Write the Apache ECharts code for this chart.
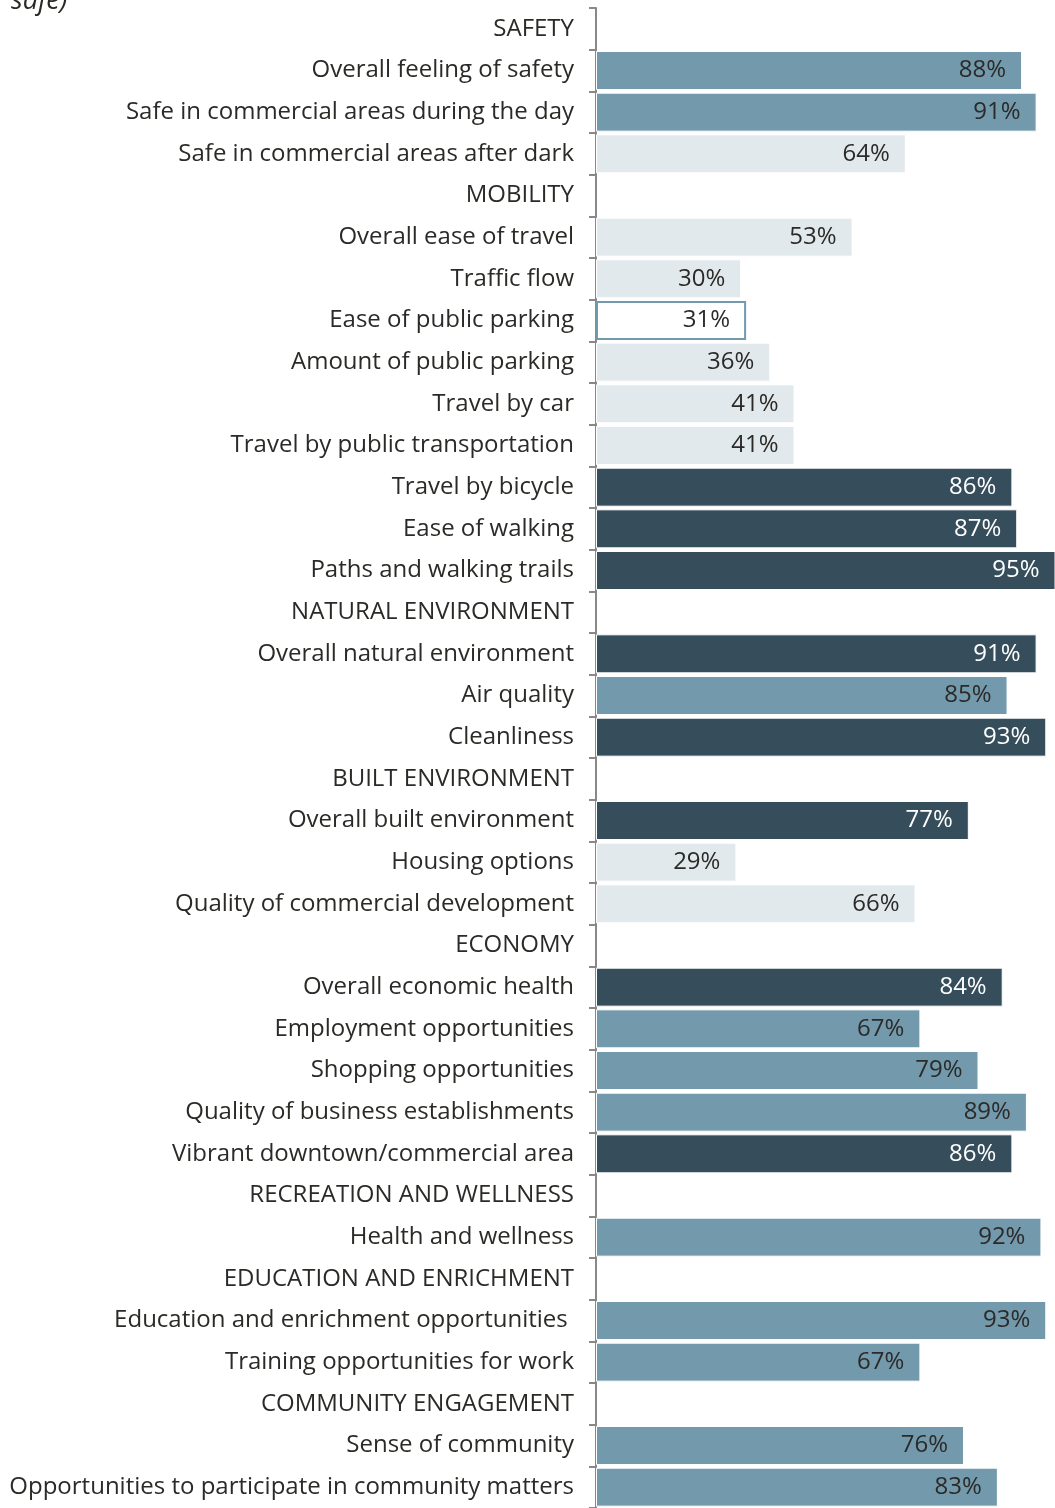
<!DOCTYPE html>
<html>
<head>
<meta charset="utf-8">
<script src="https://cdn.jsdelivr.net/npm/echarts@6/dist/echarts.min.js"></script>
<style>
html,body{margin:0;padding:0;background:#fff;}
#chart{width:1055px;height:1508px;}
</style>
</head>
<body>
<div id="chart"></div>
<script>
// ---- data ----
const titleText = 'safe)';
const categories = [
  'SAFETY',
  'Overall feeling of safety',
  'Safe in commercial areas during the day',
  'Safe in commercial areas after dark',
  'MOBILITY',
  'Overall ease of travel',
  'Traffic flow',
  'Ease of public parking',
  'Amount of public parking',
  'Travel by car',
  'Travel by public transportation',
  'Travel by bicycle',
  'Ease of walking',
  'Paths and walking trails',
  'NATURAL ENVIRONMENT',
  'Overall natural environment',
  'Air quality',
  'Cleanliness',
  'BUILT ENVIRONMENT',
  'Overall built environment',
  'Housing options',
  'Quality of commercial development',
  'ECONOMY',
  'Overall economic health',
  'Employment opportunities',
  'Shopping opportunities',
  'Quality of business establishments',
  'Vibrant downtown/commercial area',
  'RECREATION AND WELLNESS',
  'Health and wellness',
  'EDUCATION AND ENRICHMENT',
  'Education and enrichment opportunities ',
  'Training opportunities for work',
  'COMMUNITY ENGAGEMENT',
  'Sense of community',
  'Opportunities to participate in community matters'
];
const values = [
  null, 88, 91, 64,
  null, 53, 30, 31, 36, 41, 41, 86, 87, 95,
  null, 91, 85, 93,
  null, 77, 29, 66,
  null, 84, 67, 79, 89, 86,
  null, 92,
  null, 93, 67,
  null, 76, 83
];
// comparison rating for each row (header rows: none)
const ratings = [
  'none', 'similar', 'similar', 'lower',
  'none', 'lower', 'lower', 'muchLower', 'lower', 'lower', 'lower', 'higher', 'higher', 'higher',
  'none', 'higher', 'similar', 'higher',
  'none', 'higher', 'lower', 'lower',
  'none', 'higher', 'similar', 'similar', 'similar', 'higher',
  'none', 'similar',
  'none', 'similar', 'similar',
  'none', 'similar', 'similar'
];

// ---- styles ----
const styleFor = {
  higher:    {fill: '#364d5c', border: '#ffffff', bw: 1, text: '#ffffff'},
  similar:   {fill: '#7399ad', border: '#ffffff', bw: 1, text: '#2b2a27'},
  lower:     {fill: '#e2e9ed', border: '#ffffff', bw: 1, text: '#2b2a27'},
  muchLower: {fill: '#ffffff', border: '#7399ad', bw: 2, text: '#2b2a27'},
  none:      {fill: 'transparent', border: 'transparent', bw: 0, text: '#2b2a27'}
};
const FONT = '"Open Sans"';

const seriesData = values.map((v, i) => {
  const s = styleFor[ratings[i]];
  return {
    value: v,
    itemStyle: {color: s.fill, borderColor: s.border, borderWidth: s.bw},
    label: {color: s.text}
  };
});

const chart = echarts.init(document.getElementById('chart'), null, {renderer: 'canvas'});
chart.setOption({
  animation: false,
  backgroundColor: '#ffffff',
  title: {
    text: titleText,
    left: 6,
    top: -17,
    textStyle: {fontFamily: FONT, fontStyle: 'italic', fontWeight: 'normal', fontSize: 27, color: '#2b2a27'}
  },
  grid: {left: 596, right: 0, top: 8, bottom: -4, containLabel: false},
  xAxis: {
    type: 'value',
    min: 0,
    max: 94.8,
    show: false
  },
  yAxis: {
    type: 'category',
    inverse: true,
    data: categories,
    axisLine: {show: true, lineStyle: {color: '#888888', width: 2}},
    axisTick: {show: true, length: 7, lineStyle: {color: '#888888', width: 2}},
    axisLabel: {
      fontFamily: FONT,
      fontSize: 24,
      color: '#2b2a27',
      margin: 22,
      interval: 0,
      padding: [3, 0, 0, 0]
    }
  },
  series: [{
    type: 'bar',
    data: seriesData,
    barWidth: 39,
    label: {
      show: true,
      position: 'insideRight',
      distance: 16,
      fontFamily: FONT,
      fontSize: 24,
      padding: [3, 0, 0, 0],
      formatter: p => (p.value == null ? '' : p.value + '%')
    }
  }]
});
</script>
</body>
</html>
